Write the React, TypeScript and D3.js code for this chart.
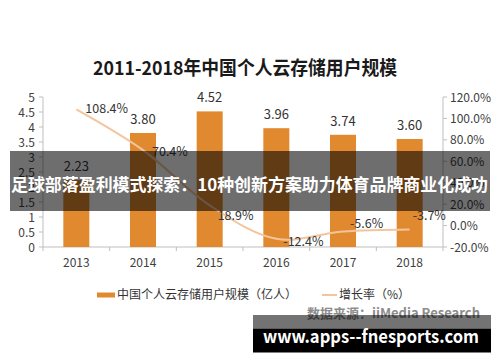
import React from "react";
import * as d3 from "d3";

const years = ["2013", "2014", "2015", "2016", "2017", "2018"];
const users = [2.23, 3.8, 4.52, 3.96, 3.74, 3.6];
const growth = [108.4, 70.4, 18.9, -12.4, -5.6, -3.7];
const leftTicks = [0, 0.5, 1, 1.5, 2, 2.5, 3, 3.5, 4, 4.5, 5];
const rightTicks = [-20, 0, 20, 40, 60, 80, 100, 120];

const title = "2011-2018年中国个人云存储用户规模";
const legendBar = "中国个人云存储用户规模（亿人）";
const legendLine = "增长率（%）";
const source = "数据来源：iiMedia Research";
const bannerText = "足球部落盈利模式探索：10种创新方案助力体育品牌商业化成功";
const siteText = "www.apps--fnesports.com";

const W = 500;
const H = 362;
const FONT = "'Noto Sans CJK SC', 'Noto Sans', sans-serif";
// label offsets (layout only)
const lineLabelDy = [4, 5.5, 15, 7, -3.5, -9.5];
const lineLabelDx = [9, 9, 8, 7, 7, 3];

export default function App() {
  const x0 = 43, x1 = 443, yTop = 97, yBot = 247;
  const band = d3.scaleBand<string>().domain(years).range([x0, x1]);
  const yL = d3.scaleLinear().domain([0, 5]).range([yBot, yTop]);
  const yR = d3.scaleLinear().domain([-20, 120]).range([yBot, yTop]);
  const cx = (y: string) => (band(y) as number) + band.bandwidth() / 2;
  const bw = 26;
  const pts: [number, number][] = years.map((y, i) => [cx(y), yR(growth[i])]);
  const line = d3.line().curve(d3.curveCatmullRom.alpha(0.5))(pts) as string;
  const bounds = [x0, ...years.map((y) => (band(y) as number) + band.bandwidth())];

  return (
    <svg width={W} height={H} style={{ position: "absolute", left: 0, top: 0, background: "#fff" }} fontFamily={FONT}>
      <rect width={W} height={H} fill="#fff" />
      <text x={93} y={75} fontSize={19} fontWeight="bold" fill="#1a1a1a" textLength={304} lengthAdjust="spacingAndGlyphs">{title}</text>

      {/* left axis */}
      <line x1={x0} x2={x0} y1={yTop} y2={yBot} stroke="#bfbfbf" />
      {leftTicks.map((t) => (
        <g key={"l" + t}>
          <line x1={x0 - 4} x2={x0} y1={yL(t)} y2={yL(t)} stroke="#bfbfbf" />
          <text x={35} y={yL(t) + 4.5} textAnchor="end" fontSize={12} fill="#404040">{t}</text>
        </g>
      ))}
      {/* right axis */}
      <line x1={x1} x2={x1} y1={yTop} y2={yBot} stroke="#bfbfbf" />
      {rightTicks.map((t) => (
        <g key={"r" + t}>
          <line x1={x1} x2={x1 + 4} y1={yR(t)} y2={yR(t)} stroke="#bfbfbf" />
          <text x={450} y={yR(t) + 4.5} textAnchor="start" fontSize={12} fill="#404040">{t.toFixed(1) + "%"}</text>
        </g>
      ))}
      {/* bottom axis */}
      <line x1={x0} x2={x1} y1={yBot} y2={yBot} stroke="#bfbfbf" />
      {bounds.map((b, i) => (
        <line key={"b" + i} x1={b} x2={b} y1={yBot} y2={yBot + 4} stroke="#bfbfbf" />
      ))}
      {years.map((y) => (
        <text key={"x" + y} x={cx(y)} y={267} textAnchor="middle" fontSize={12} fill="#404040">{y}</text>
      ))}

      {/* bars */}
      {years.map((y, i) => (
        <g key={"bar" + y}>
          <rect x={cx(y) - bw / 2} y={yL(users[i])} width={bw} height={yBot - yL(users[i])} fill="#E0892F" />
          <text x={cx(y)} y={yL(users[i]) - 9} textAnchor="middle" fontSize={13} fill="#333">{users[i].toFixed(2)}</text>
        </g>
      ))}

      {/* line */}
      <path d={line} fill="none" stroke="#F4C59C" strokeWidth={2} />
      {pts.map((p, i) => (
        <text key={"g" + i} x={p[0] + lineLabelDx[i]} y={p[1] + lineLabelDy[i]} fontSize={12.5} fill="#333">{growth[i].toFixed(1) + "%"}</text>
      ))}

      {/* legend */}
      <rect x={97} y={292.5} width={18} height={5} fill="#E0892F" />
      <text x={117} y={299} fontSize={12} fill="#333">{legendBar}</text>
      <line x1={322} x2={337} y1={295} y2={295} stroke="#F4C59C" strokeWidth={2} />
      <text x={339} y={299} fontSize={12} fill="#333">{legendLine}</text>

      <text x={480} y={318} textAnchor="end" fontSize={13} fontWeight="bold" fill="#8c8c8c">{source}</text>

      {/* overlays */}
      <rect x={10} y={151} width={480} height={60} fill="rgba(0,0,0,0.57)" />
      <text x={11} y={191} fontSize={17} fontWeight="bold" fill="#fff" textLength={477} lengthAdjust="spacingAndGlyphs">{bannerText}</text>

      <rect x={253} y={315} width={238} height={13.5} fill="rgba(0,0,0,0.55)" />
      <rect x={253} y={328.5} width={238} height={24} fill="#000" />
      <text x={263} y={343} fontSize={18} fontWeight="bold" fill="#fff" textLength={216} lengthAdjust="spacingAndGlyphs">{siteText}</text>
    </svg>
  );
}
